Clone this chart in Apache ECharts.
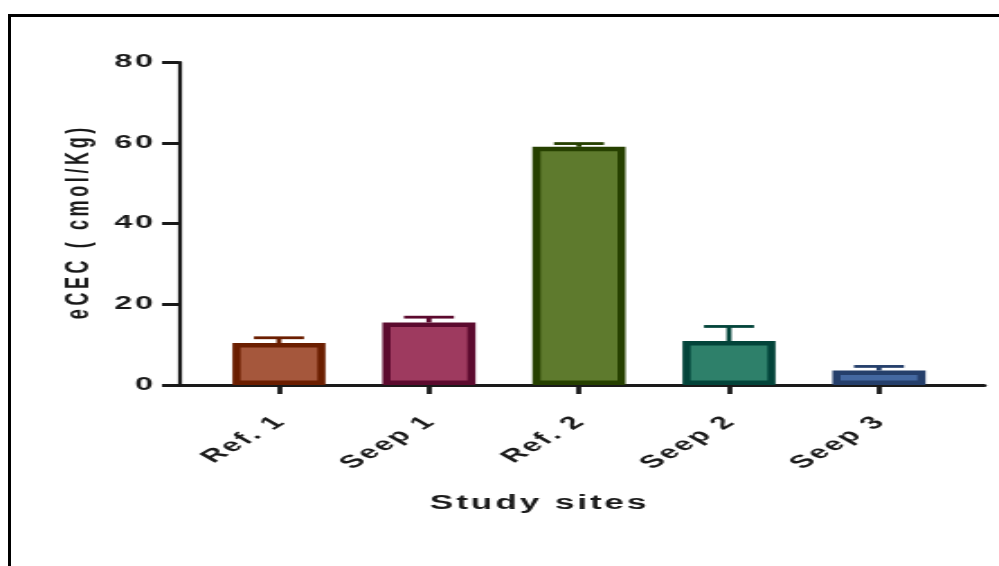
<!DOCTYPE html>
<html>
<head>
<meta charset="utf-8">
<script src="https://cdn.jsdelivr.net/npm/echarts@6/dist/echarts.min.js"></script>
<style>
  html, body { margin: 0; padding: 0; background: #fff; overflow: hidden; }
  #wrap { position: relative; width: 999px; height: 566px; overflow: hidden; background: #fff; }
  /* the figure is laid out narrow and widened horizontally */
  #chart { position: absolute; left: 0; top: 0; width: 555px; height: 566px;
           transform: scaleX(1.8); transform-origin: 0 0; }
  #frame { position: absolute; left: 8px; top: 14px; width: 1100px; height: 700px;
           border-left: 3px solid #000; border-top: 3px solid #000; pointer-events: none; }
</style>
</head>
<body>
<div id="wrap">
  <div id="chart"></div>
  <div id="frame"></div>
</div>
<script>
// Effective cation exchange capacity per study site (mean and SEM)
const sites = ['Ref. 1', 'Seep 1', 'Ref. 2', 'Seep 2', 'Seep 3'];
const meanCEC = [10.4, 15.5, 59.0, 10.9, 3.6];
const semCEC = [1.3, 1.3, 0.8, 3.6, 1.0];
const yMin = 0, yMax = 80, yStep = 20;

// bar fills and outlines, one per site
const fillColors = ['#A5573C', '#9E3A5F', '#5E7A2D', '#2E806A', '#4468A1'];
const edgeColors = ['#6B1E00', '#5C0A2E', '#264000', '#03443A', '#253F6B'];

const HAIR = '\u200A', THIN = '\u2009';
const spaced = (s, sep) => String(s).split('').join(sep);

const chart = echarts.init(document.getElementById('chart'));
const textBase = { fontFamily: '"Liberation Sans", Arial, sans-serif', fontWeight: 'bold', color: '#1a1a1a' };

chart.setOption({
  animation: false,
  backgroundColor: '#fff',
  title: {
    text: spaced('Study sites', HAIR),
    left: 294, top: 489, textAlign: 'center',
    textStyle: Object.assign({}, textBase, { fontSize: 19.5 })
  },
  grid: [
    { left: 99.4, right: 8.3, top: 62, bottom: 181, outerBoundsMode: 'none' },
    { left: 113.3, right: 25, top: 62, bottom: 181, outerBoundsMode: 'none' }
  ],
  xAxis: [
    {
      gridIndex: 0, type: 'value', min: 0, max: 1,
      axisLine: { show: true, lineStyle: { color: '#1a1a1a', width: 3 } },
      axisTick: { show: false }, axisLabel: { show: false }, splitLine: { show: false }
    },
    {
      gridIndex: 1, type: 'category', data: sites,
      axisLine: { show: false },
      axisTick: { show: true, alignWithLabel: true, length: 9, lineStyle: { color: '#1a1a1a', width: 2.8 } },
      axisLabel: Object.assign({}, textBase, {
        rotate: 45, margin: 35, fontSize: 18, interval: 0,
        formatter: v => spaced(v, HAIR)
      }),
      splitLine: { show: false }
    }
  ],
  yAxis: [
    {
      gridIndex: 0, type: 'value', min: yMin, max: yMax, interval: yStep,
      name: spaced('eCEC ( cmol/Kg)', THIN),
      nameLocation: 'middle', nameRotate: 90, nameGap: 42,
      nameTextStyle: Object.assign({}, textBase, { fontSize: 18 }),
      axisLine: { show: true, lineStyle: { color: '#1a1a1a', width: 2.2 } },
      axisTick: { show: true, length: 9.4, lineStyle: { color: '#1a1a1a', width: 3 } },
      axisLabel: Object.assign({}, textBase, {
        margin: 14.4, fontSize: 18,
        formatter: v => spaced(v, HAIR)
      }),
      splitLine: { show: false }
    },
    { gridIndex: 1, type: 'value', min: yMin, max: yMax, show: false }
  ],
  series: [
    {
      // upward SEM whiskers, drawn beneath the bars
      type: 'custom', xAxisIndex: 1, yAxisIndex: 1, z: 1,
      data: meanCEC.map((m, i) => [i, m, m + semCEC[i]]),
      renderItem: (params, api) => {
        const i = api.value(0);
        const base = api.coord([i, api.value(1)]);
        const top = api.coord([i, api.value(2)]);
        const half = 13.9;
        const style = { stroke: edgeColors[i], lineWidth: 2.8, fill: null };
        return {
          type: 'group',
          children: [
            { type: 'line', shape: { x1: top[0], y1: base[1], x2: top[0], y2: top[1] }, style },
            { type: 'line', shape: { x1: top[0] - half, y1: top[1], x2: top[0] + half, y2: top[1] }, style }
          ]
        };
      }
    },
    {
      type: 'bar', xAxisIndex: 1, yAxisIndex: 1, z: 2,
      barWidth: 51.7,
      data: meanCEC.map((v, i) => ({
        value: v,
        itemStyle: { color: fillColors[i], borderColor: edgeColors[i], borderWidth: 4.5 }
      }))
    }
  ]
});
</script>
</body>
</html>
